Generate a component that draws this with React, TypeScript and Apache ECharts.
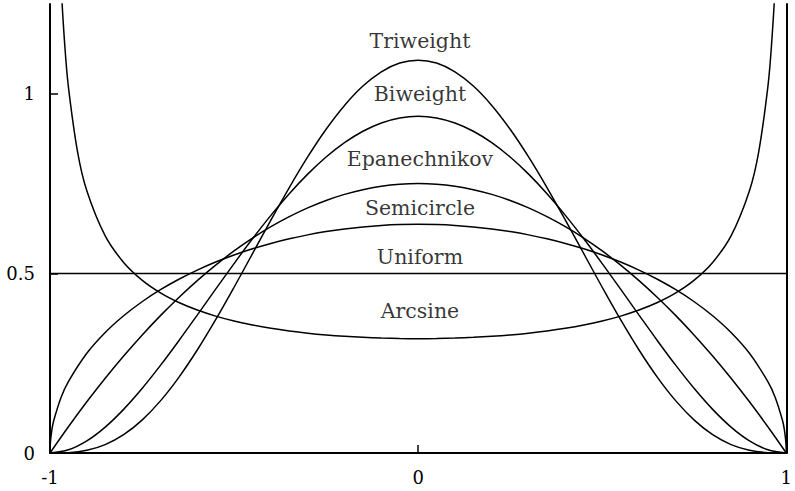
import React, { useEffect, useRef } from "react";
import * as echarts from "echarts";

// ---- data ----
const xPoly = [-1, -0.95, -0.9, -0.85, -0.8, -0.75, -0.7, -0.65, -0.6, -0.55, -0.5, -0.45, -0.4, -0.35, -0.3, -0.25, -0.2, -0.15, -0.1, -0.05, 0, 0.05, 0.1, 0.15, 0.2, 0.25, 0.3, 0.35, 0.4, 0.45, 0.5, 0.55, 0.6, 0.65, 0.7, 0.75, 0.8, 0.85, 0.9, 0.95, 1];
const triweight = [0, 0.00102, 0.0075, 0.02337, 0.05103, 0.09159, 0.14509, 0.21067, 0.28672, 0.37115, 0.46143, 0.55477, 0.64827, 0.73904, 0.82422, 0.90123, 0.96768, 1.02157, 1.06127, 1.08557, 1.09375, 1.08557, 1.06127, 1.02157, 0.96768, 0.90123, 0.82422, 0.73904, 0.64827, 0.55477, 0.46143, 0.37115, 0.28672, 0.21067, 0.14509, 0.09159, 0.05103, 0.02337, 0.0075, 0.00102, 0];
const biweight = [0, 0.00891, 0.03384, 0.0722, 0.1215, 0.17945, 0.24384, 0.31267, 0.384, 0.4561, 0.52734, 0.59626, 0.6615, 0.72188, 0.77634, 0.82398, 0.864, 0.89579, 0.91884, 0.93282, 0.9375, 0.93282, 0.91884, 0.89579, 0.864, 0.82398, 0.77634, 0.72188, 0.6615, 0.59626, 0.52734, 0.4561, 0.384, 0.31267, 0.24384, 0.17945, 0.1215, 0.0722, 0.03384, 0.00891, 0];
const epanechnikov = [0, 0.0731, 0.1425, 0.2081, 0.27, 0.3281, 0.3825, 0.4331, 0.48, 0.5231, 0.5625, 0.5981, 0.63, 0.6581, 0.6825, 0.7031, 0.72, 0.7331, 0.7425, 0.7481, 0.75, 0.7481, 0.7425, 0.7331, 0.72, 0.7031, 0.6825, 0.6581, 0.63, 0.5981, 0.5625, 0.5231, 0.48, 0.4331, 0.3825, 0.3281, 0.27, 0.2081, 0.1425, 0.0731, 0];

const semicircleX = [-1, -0.999, -0.995, -0.99, -0.97, -0.95, -0.9, -0.85, -0.8, -0.75, -0.7, -0.65, -0.6, -0.55, -0.5, -0.45, -0.4, -0.35, -0.3, -0.25, -0.2, -0.15, -0.1, -0.05, 0, 0.05, 0.1, 0.15, 0.2, 0.25, 0.3, 0.35, 0.4, 0.45, 0.5, 0.55, 0.6, 0.65, 0.7, 0.75, 0.8, 0.85, 0.9, 0.95, 0.97, 0.99, 0.995, 0.999, 1];
const semicircle = [0, 0.02846, 0.06358, 0.08981, 0.15476, 0.19879, 0.2775, 0.33536, 0.38197, 0.42108, 0.45463, 0.48379, 0.5093, 0.53168, 0.55133, 0.56852, 0.58347, 0.59635, 0.60729, 0.6164, 0.62376, 0.62942, 0.63343, 0.63582, 0.63662, 0.63582, 0.63343, 0.62942, 0.62376, 0.6164, 0.60729, 0.59635, 0.58347, 0.56852, 0.55133, 0.53168, 0.5093, 0.48379, 0.45463, 0.42108, 0.38197, 0.33536, 0.2775, 0.19879, 0.15476, 0.08981, 0.06358, 0.02846, 0];

const uniformX = [-1, 1];
const uniform = [0.5, 0.5];

const arcsineX = [-0.98, -0.97, -0.96, -0.95, -0.925, -0.9, -0.85, -0.8, -0.75, -0.7, -0.65, -0.6, -0.55, -0.5, -0.45, -0.4, -0.35, -0.3, -0.25, -0.2, -0.15, -0.1, -0.05, 0, 0.05, 0.1, 0.15, 0.2, 0.25, 0.3, 0.35, 0.4, 0.45, 0.5, 0.55, 0.6, 0.65, 0.7, 0.75, 0.8, 0.85, 0.9, 0.925, 0.95, 0.96, 0.97, 0.98];
const arcsine = [1.59955, 1.30938, 1.13682, 1.01941, 0.83773, 0.73025, 0.60426, 0.53052, 0.48124, 0.44572, 0.41887, 0.39789, 0.38114, 0.36755, 0.35644, 0.3473, 0.3398, 0.33368, 0.32875, 0.32487, 0.32195, 0.31991, 0.31871, 0.31831, 0.31871, 0.31991, 0.32195, 0.32487, 0.32875, 0.33368, 0.3398, 0.3473, 0.35644, 0.36755, 0.38114, 0.39789, 0.41887, 0.44572, 0.48124, 0.53052, 0.60426, 0.73025, 0.83773, 1.01941, 1.13682, 1.30938, 1.59955];

const curveNames = ["Triweight", "Biweight", "Epanechnikov", "Semicircle", "Uniform", "Arcsine"];
const labelX = [0.005, 0.005, 0.005, 0.005, 0.005, 0.005];
const labelY = [1.147, 0.999, 0.818, 0.683, 0.546, 0.395];

const yTicks = [0, 0.5, 1];
const xTicks = [-1, 0, 1];

const FONT = "DejaVu Serif";
const FS_TICK = 18;
const FS_LABEL = 20.5;

const zip = (xs: number[], ys: number[]) => xs.map((x, i) => [x, ys[i]]);

export default function App() {
  const ref = useRef<HTMLDivElement>(null);
  useEffect(() => {
    if (!ref.current) return;
    const chart = echarts.init(ref.current, null, { renderer: "svg" });
    const lineSeries = (name: string, data: number[][]) => ({
      name,
      type: "line",
      data,
      showSymbol: false,
      symbol: "none",
      smooth: 0.35,
      clip: true,
      lineStyle: { color: "#000", width: 1.5 },
      silent: true,
    });
    chart.setOption({
      animation: false,
      backgroundColor: "#fff",
      grid: { left: 50, right: 4, top: 4, bottom: 38 },
      xAxis: {
        type: "value",
        min: -1,
        max: 1,
        interval: 1,
        axisLine: { show: true, onZero: false, lineStyle: { color: "#000", width: 2 } },
        axisTick: { show: true, inside: true, length: 8, customValues: xTicks, lineStyle: { color: "#000", width: 1.5 } },
        axisLabel: { margin: 15, customValues: xTicks, color: "#000", fontFamily: FONT, fontSize: FS_TICK },
        splitLine: { show: false },
      },
      yAxis: [
        {
          type: "value",
          min: 0,
          max: 1.25,
          interval: 0.5,
          axisLine: { show: true, onZero: false, lineStyle: { color: "#000", width: 2 } },
          axisTick: { show: true, inside: true, length: 8, customValues: yTicks, lineStyle: { color: "#000", width: 1.5 } },
          axisLabel: { margin: 15, customValues: yTicks, color: "#000", fontFamily: FONT, fontSize: FS_TICK },
          splitLine: { show: false },
        },
        {
          type: "value",
          position: "right",
          min: 0,
          max: 1.25,
          axisLine: { show: true, onZero: false, lineStyle: { color: "#000", width: 2 } },
          axisTick: { show: false },
          axisLabel: { show: false },
          splitLine: { show: false },
        },
      ],
      series: [
        lineSeries("Triweight", zip(xPoly, triweight)),
        lineSeries("Biweight", zip(xPoly, biweight)),
        lineSeries("Epanechnikov", zip(xPoly, epanechnikov)),
        lineSeries("Semicircle", zip(semicircleX, semicircle)),
        lineSeries("Uniform", zip(uniformX, uniform)),
        lineSeries("Arcsine", zip(arcsineX, arcsine)),
        {
          type: "scatter",
          symbolSize: 1,
          itemStyle: { color: "transparent" },
          silent: true,
          data: curveNames.map((n, i) => ({ name: n, value: [labelX[i], labelY[i]] })),
          label: {
            show: true,
            position: "inside",
            formatter: "{b}",
            color: "#000",
            fontFamily: FONT,
            fontSize: FS_LABEL,
          },
        },
      ],
    });
    return () => chart.dispose();
  }, []);
  return (
    <div
      ref={ref}
      style={{ position: "absolute", left: 0, top: 0, width: 795, height: 491, background: "#fff" }}
    />
  );
}
